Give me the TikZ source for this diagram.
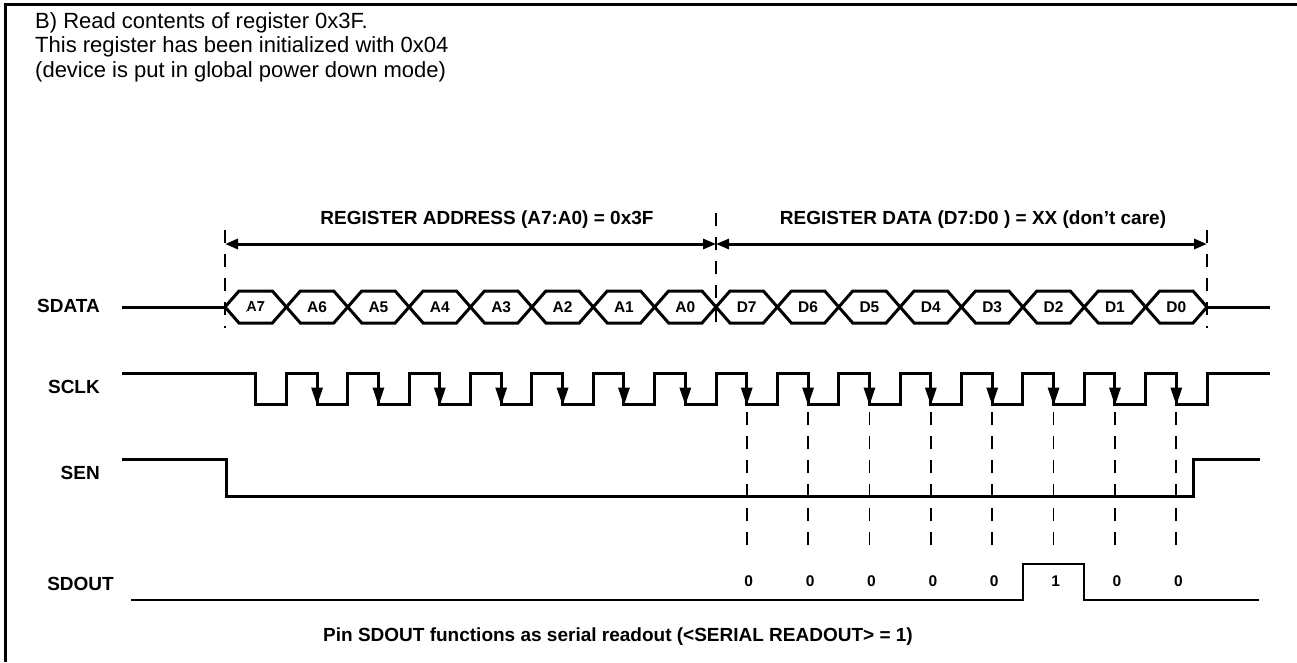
\documentclass[tikz,border=0pt]{standalone}
\usepackage{fontspec}
\setmainfont{Liberation Sans}
\usetikzlibrary{positioning,arrows.meta,calc}
\tikzset{sig/.style={line width=3pt},
         thinsig/.style={line width=2pt},
         guide/.style={line width=1.8pt,dash pattern=on 13pt off 11pt},
         span/.style={line width=3pt,{Triangle[length=13pt,width=10pt]}-{Triangle[length=13pt,width=10pt]}},
         clkarr/.style={line width=3pt,-{Triangle[length=18pt,width=11pt]}},
         note/.style={font=\fontsize{22}{25}\selectfont,inner sep=0pt,anchor=base west},
         siglbl/.style={font=\fontsize{19}{22}\selectfont\bfseries,inner sep=0pt,anchor=east},
         spanlbl/.style={font=\fontsize{19}{22}\selectfont\bfseries,inner sep=0pt},
         bitlbl/.style={font=\fontsize{15.5}{18}\selectfont\bfseries,inner sep=0pt}}

\begin{document}
\begin{tikzpicture}[x=1pt,y=-1pt]
 \useasboundingbox (0,0) rectangle (1297,662);
 % frame
 \draw[line width=3pt] (5,662) -- (5,4) -- (1297,4);
 \node[note] (t1) at (35,28) {B) Read contents of register 0x3F.};
 \node[note] (t2) at (35,52.5) {This register has been initialized with 0x04};
 \node[note] (t3) at (35,77) {(device is put in global power down mode)};
 % signal names
 \node[siglbl] (lsdata) at (100,306) {SDATA};
 \node[siglbl] (lsclk) at (100,387) {SCLK};
 \node[siglbl] (lsen) at (100,473) {SEN};
 \node[siglbl] (lsdout) at (114,584) {SDOUT};
 % field markers
 \coordinate (m0) at (225,244); \coordinate (m1) at (716,244); \coordinate (m2) at (1207,244);
 \draw[guide] (225,230) -- (225,328);
 \draw[guide] (716,213) -- (716,328);
 \draw[guide] (1207,230) -- (1207,328);
 \draw[span] (m0) -- (m1);
 \draw[span] (m1) -- (m2);
 \node[spanlbl] (addr) at (487,220) {REGISTER ADDRESS (A7:A0) = 0x3F};
 \node[spanlbl] (data) at (973,220) {REGISTER DATA (D7:D0 ) = XX (don’t care)};
 % SDATA
 \draw[sig] (122,307) -- (225,307);
 \draw[sig] (1207,307) -- (1270,307);
 \foreach \lbl [count=\i from 0] in {A7,A6,A5,A4,A3,A2,A1,A0,D7,D6,D5,D4,D3,D2,D1,D0} {
   \pgfmathsetmacro\xa{225+61.375*\i}
   \pgfmathsetmacro\xb{\xa+61.375}
   \draw[sig] (\xa,307) -- (\xa+14,291) -- (\xb-14,291) -- (\xb,307) -- (\xb-14,323) -- (\xa+14,323) -- cycle;
   \node[bitlbl] (b\i) at ({(\xa+\xb)/2},307) {\lbl};
 }
 \node[bitlbl,fill=white,font=\fontsize{14}{16}\selectfont\bfseries] at (b0) {A7};
 % SCLK
 \draw[sig] (122,373) \foreach \k in {0,...,15} {
     -- ({255.7+61.375*\k},373) -- ({255.7+61.375*\k},404)
     -- ({286.4+61.375*\k},404) -- ({286.4+61.375*\k},373)} -- (1270,373);
 \foreach \k in {1,...,15}
   \draw[clkarr] ({255.7+61.375*\k},380) -- ({255.7+61.375*\k},405.5);
 \foreach \k in {8,...,15}
   \draw[guide] ({255.7+61.375*\k},412) -- ({255.7+61.375*\k},552);
 % SEN
 \draw[sig] (122,459) -- (226,459) -- (226,496) -- (1193,496) -- (1193,459) -- (1260,459);
 % SDOUT
 \draw[thinsig] (131,600) -- (1023,600) -- (1023,564) -- (1084,564) -- (1084,600) -- (1259,600);
 \foreach \v [count=\i from 8] in {0,0,0,0,0,1,0,0}
   \node[bitlbl] (o\i) at ({257.7+61.375*\i},581) {\v};
 \node[spanlbl] (foot) at (618,637) {Pin SDOUT functions as serial readout (<SERIAL READOUT> = 1)};
\end{tikzpicture}
\end{document}
